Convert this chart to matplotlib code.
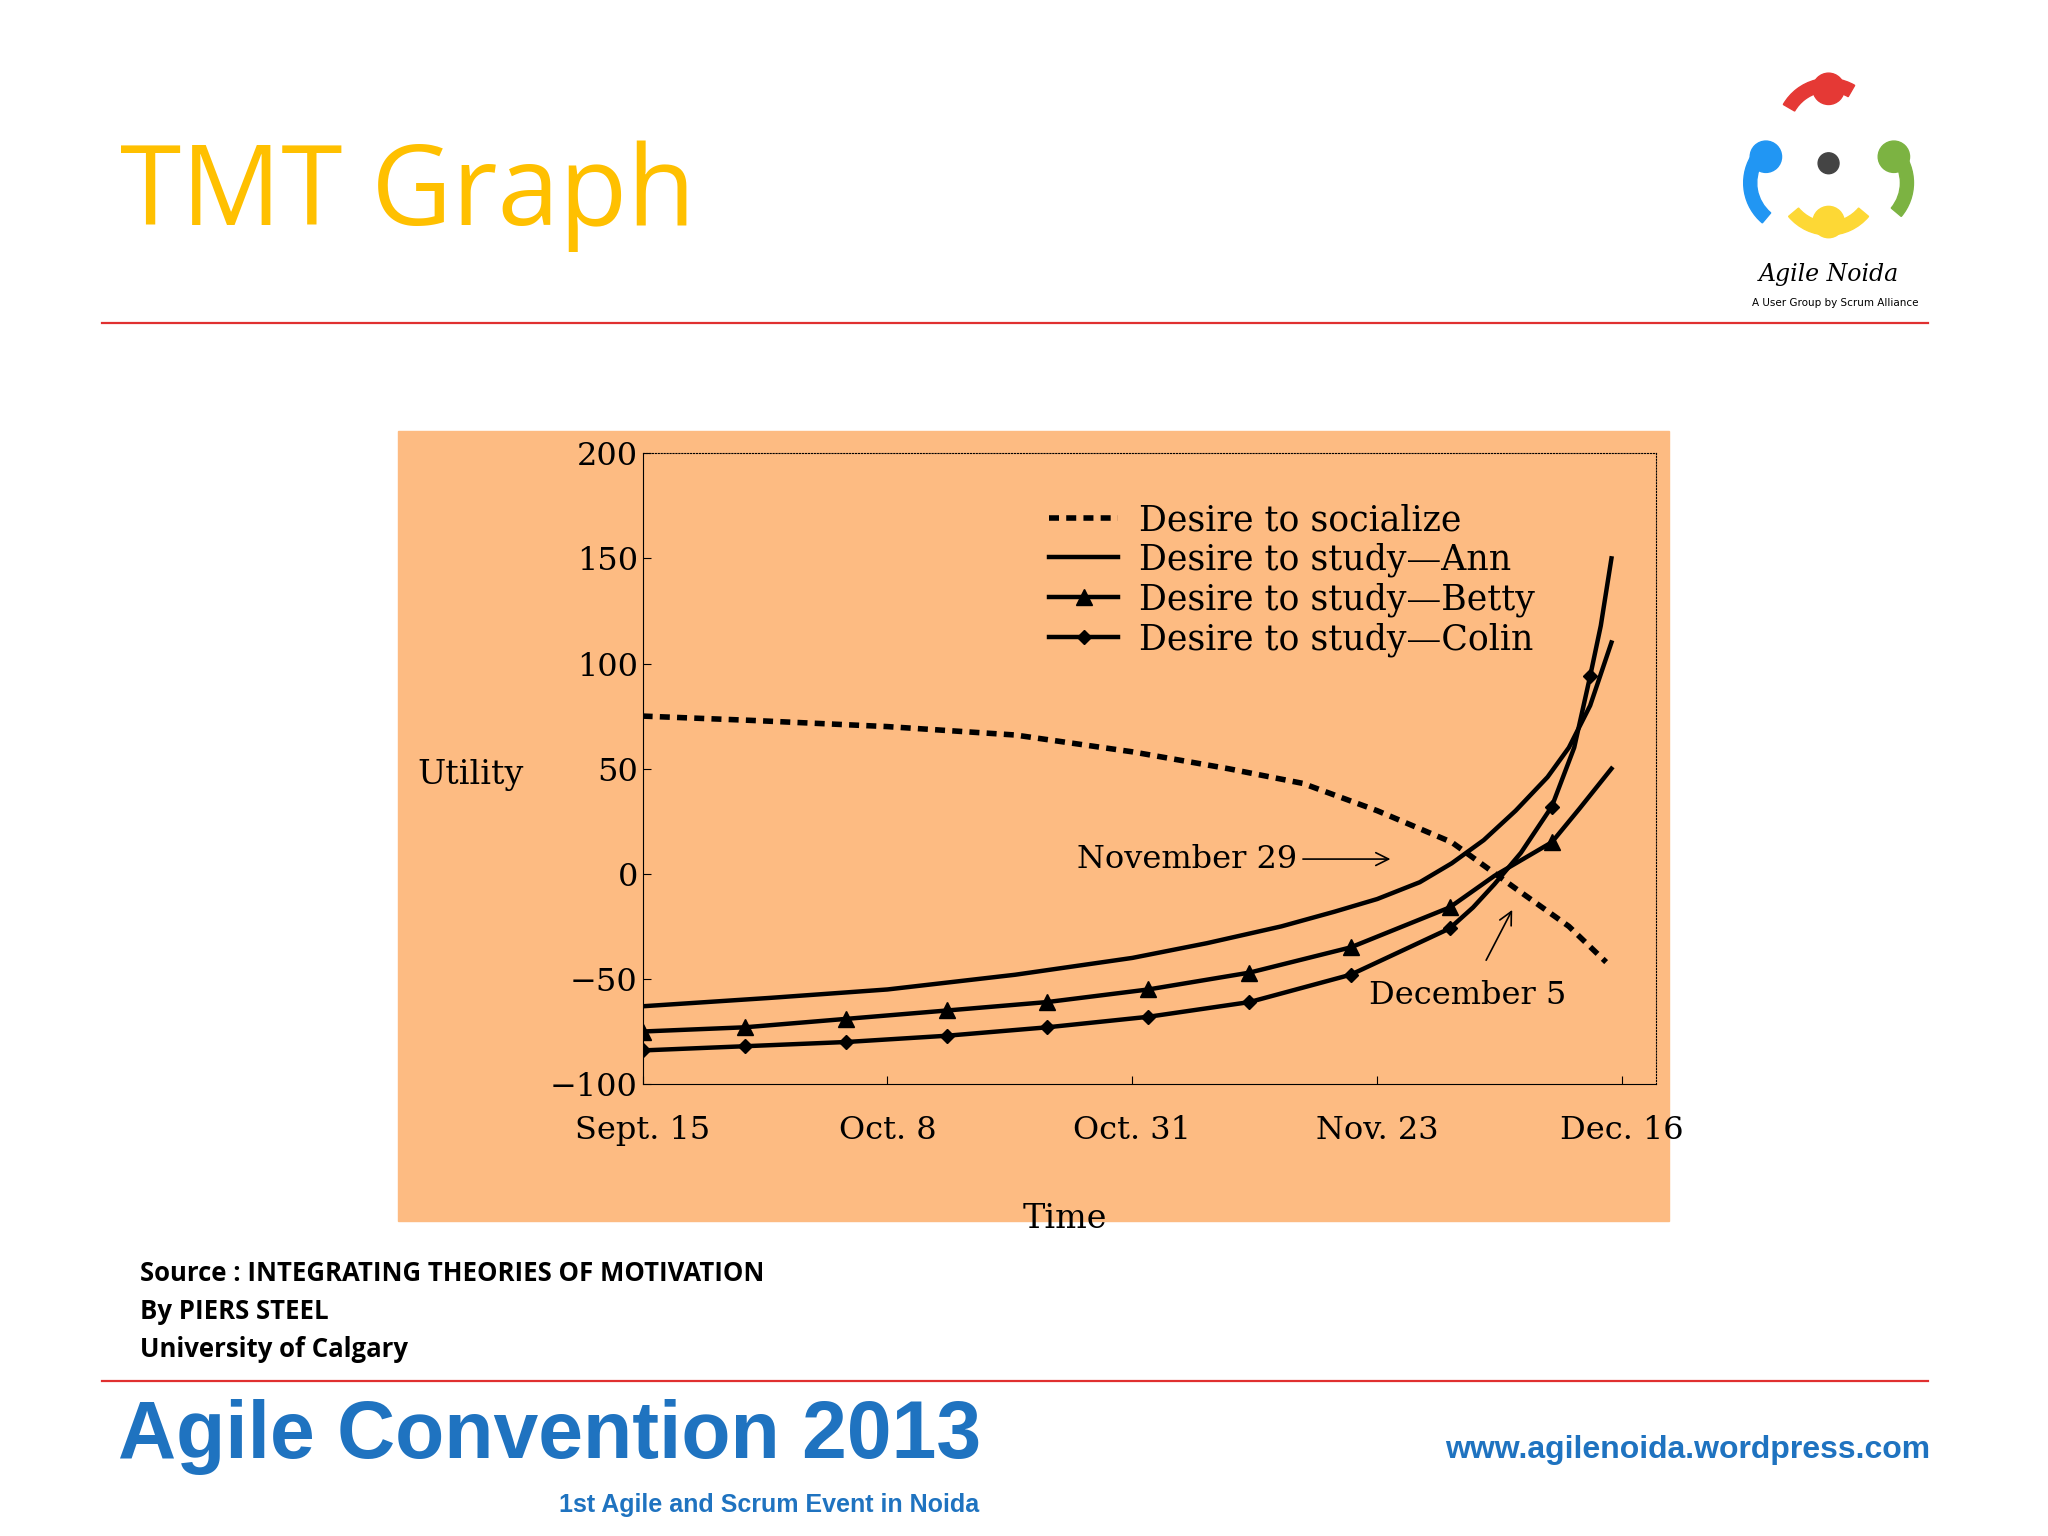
import matplotlib.pyplot as plt
from matplotlib.patches import Rectangle, Circle, Wedge

W, H = 1568, 1176

# chart data (days since Sept. 15)
tick_days = [0, 23, 46, 69, 92]
tick_labels = ['Sept. 15', 'Oct. 8', 'Oct. 31', 'Nov. 23', 'Dec. 16']

social_x = [0, 10, 23, 35, 46, 55, 62, 69, 76, 82, 87, 90.5]
social_y = [75, 73, 70, 66, 58, 50, 43, 30, 15, -7, -25, -42]

ann_x = [0, 12, 23, 35, 46, 53, 60, 65, 69, 73, 76, 79, 82, 85, 87, 89, 91]
ann_y = [-63, -59, -55, -48, -40, -33, -25, -18, -12, -4, 5, 16, 30, 46, 60, 80, 110]

betty_x = [0, 9.6, 19.1, 28.6, 38, 47.5, 57, 66.5, 75.8, 80, 85.4, 88, 91]
betty_y = [-75, -73, -69, -65, -61, -55, -47, -35, -16, -1, 15, 31, 50]

colin_x = [0, 9.6, 19.1, 28.6, 38, 47.5, 57, 66.5, 75.8, 78, 80, 82.5, 85.4, 87.5, 89, 90, 91]
colin_y = [-84, -82, -80, -77, -73, -68, -61, -48, -26, -16, -5, 10, 32, 60, 94, 118, 150]
colin_mark = [0, 1, 2, 3, 4, 5, 6, 7, 8, 12, 14]
betty_mark = [0, 1, 2, 3, 4, 5, 6, 7, 8, 10]


def fx(px):
    return px / W


def fy(py):
    return 1 - py / H


fig = plt.figure(figsize=(20.48, 15.36), dpi=100)
fig.patch.set_facecolor('white')

fig.text(fx(92), fy(150), 'TMT Graph', color='#FFC000', fontsize=80,
         family='Open Sans', va='center', ha='left')
for y in [247, 1057]:
    fig.add_artist(plt.Line2D([fx(78), fx(1476)], [fy(y), fy(y)], color='#E03030', lw=1.6))

# orange panel
fig.add_artist(Rectangle((fx(305), fy(935)), fx(973), 605 / H, transform=fig.transFigure,
                         color='#FDBB82', zorder=0))

ax = fig.add_axes([fx(492), fy(830), fx(776), 483 / H])
ax.set_facecolor('none')
ax.plot(social_x, social_y, 'k--', lw=4, dashes=(1.8, 1.3), label='Desire to socialize')
ax.plot(ann_x, ann_y, 'k-', lw=3.2, label='Desire to study—Ann')
ax.plot(betty_x, betty_y, 'k-', lw=3.2, marker='^', ms=11, markevery=betty_mark,
        label='Desire to study—Betty')
ax.plot(colin_x, colin_y, 'k-', lw=3.2, marker='D', ms=7, markevery=colin_mark,
        label='Desire to study—Colin')
ax.set_xlim(0, 95.2)
ax.set_ylim(-100, 200)
ax.set_xticks(tick_days)
ax.set_xticklabels(tick_labels, family='DejaVu Serif', fontsize=23)
ax.set_yticks(range(-100, 201, 50))
ax.set_yticklabels(['−100', '−50', '0', '50', '100', '150', '200'], family='DejaVu Serif', fontsize=23)
ax.tick_params(direction='in', length=6)
ax.tick_params(axis='x', pad=22)
for s in ['top', 'right']:
    ax.spines[s].set_linestyle(':')
ax.legend(loc='upper left', bbox_to_anchor=(0.37, 0.97), frameon=False,
          prop={'family': 'DejaVu Serif', 'size': 25}, handlelength=2.0,
          labelspacing=0.15, handletextpad=0.6)
ax.annotate('November 29', xy=(70.5, 7), xytext=(61.5, 7), ha='right', va='center',
            family='DejaVu Serif', fontsize=23,
            arrowprops=dict(arrowstyle='->', color='k', lw=1.2))
ax.annotate('December 5', xy=(81.8, -16), xytext=(77.5, -58), ha='center', va='center',
            family='DejaVu Serif', fontsize=23,
            arrowprops=dict(arrowstyle='->', color='k', lw=1.2, shrinkA=14))
fig.text(fx(360), fy(593), 'Utility', family='DejaVu Serif', fontsize=24, ha='center', va='center')
fig.text(fx(815), fy(933), 'Time', family='DejaVu Serif', fontsize=24, ha='center', va='center')

# source
for i, line in enumerate(['Source : INTEGRATING THEORIES OF MOTIVATION', 'By PIERS STEEL',
                          'University of Calgary']):
    fig.text(fx(107), fy(975 + 29 * i), line, fontsize=18.5, weight='bold',
             family='Open Sans', va='center')

# footer
fig.text(fx(90), fy(1100), 'Agile Convention 2013', color='#1F73C0', fontsize=58,
         weight='bold', family='Liberation Sans', va='center')
fig.text(fx(750), fy(1152), '1st Agile and Scrum Event in Noida', color='#1F73C0',
         fontsize=18, weight='bold', family='Liberation Sans', va='center', ha='right')
fig.text(fx(1478), fy(1110), 'www.agilenoida.wordpress.com', color='#1F73C0',
         fontsize=23, weight='bold', family='Liberation Sans', va='center', ha='right')

# logo
lax = fig.add_axes([fx(1330), fy(200), fx(140), 145 / H])
lax.set_xlim(0, 140)
lax.set_ylim(0, 145)
lax.set_aspect('equal')
lax.axis('off')
lax.add_patch(Circle((70, 132), 12, color='#E53935'))
lax.add_patch(Wedge((70, 100), 40, 60, 150, width=10, color='#E53935'))
lax.add_patch(Circle((22, 80), 12, color='#2196F3'))
lax.add_patch(Wedge((45, 60), 40, 150, 230, width=10, color='#2196F3'))
lax.add_patch(Circle((120, 80), 12, color='#7CB342'))
lax.add_patch(Wedge((95, 60), 40, -40, 40, width=10, color='#7CB342'))
lax.add_patch(Circle((70, 30), 12, color='#FDD835'))
lax.add_patch(Wedge((70, 60), 40, 220, 320, width=10, color='#FDD835'))
lax.add_patch(Circle((70, 75), 8, color='#444444'))
fig.text(fx(1400), fy(210), 'Agile Noida', fontsize=17, style='italic', family='DejaVu Serif',
         ha='center', va='center')
fig.text(fx(1405), fy(232), 'A User Group by Scrum Alliance', fontsize=7.5, ha='center', va='center')

fig.savefig('out.png', dpi=100)
